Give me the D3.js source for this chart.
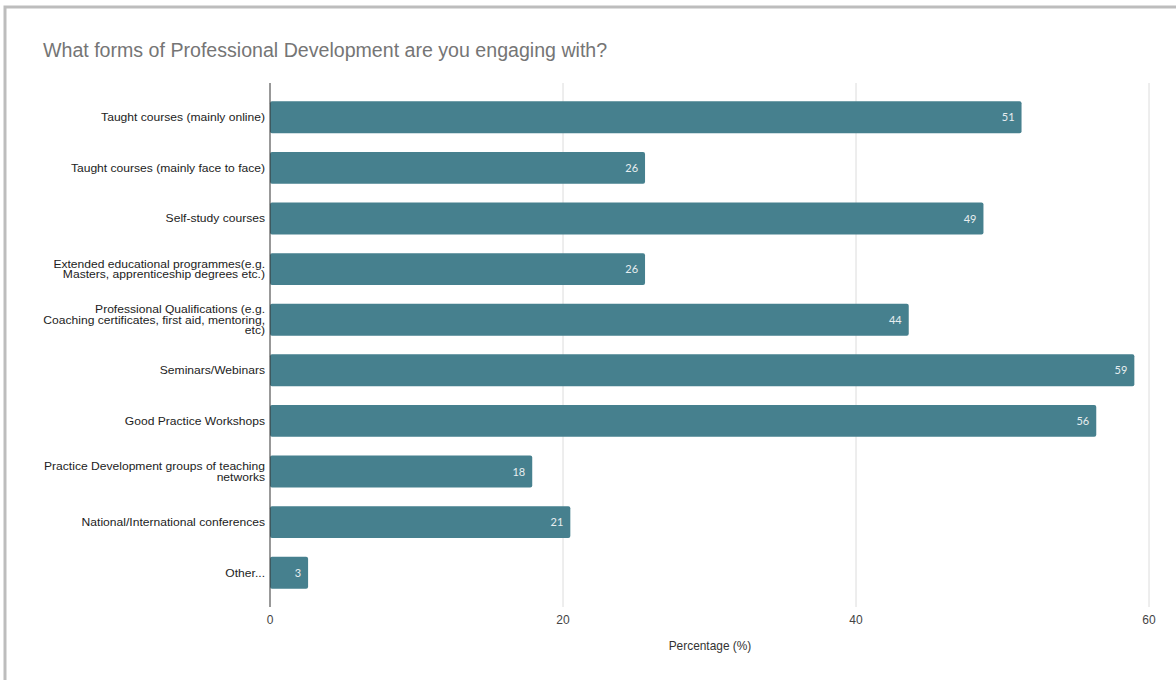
<!DOCTYPE html>
<html><head><meta charset="utf-8">
<script src="https://cdn.jsdelivr.net/npm/d3@7"></script>
<style>body{margin:0;background:#fff;}svg{display:block;}</style>
</head><body>
<svg id="c" width="1176" height="680"></svg>
<script>
const categories = [
  ["Taught courses (mainly online)"],
  ["Taught courses (mainly face to face)"],
  ["Self-study courses"],
  ["Extended educational programmes(e.g.", "Masters, apprenticeship degrees etc.)"],
  ["Professional Qualifications (e.g.", "Coaching certificates, first aid, mentoring,", "etc)"],
  ["Seminars/Webinars"],
  ["Good Practice Workshops"],
  ["Practice Development groups of teaching", "networks"],
  ["National/International conferences"],
  ["Other..."]
];
const values = [51.3, 25.6, 48.7, 25.6, 43.6, 59.0, 56.4, 17.9, 20.5, 2.6];
const valueLabels = ["51", "26", "49", "26", "44", "59", "56", "18", "21", "3"];
const xTicks = [0, 20, 40, 60];
const title = "What forms of Professional Development are you engaging with?";
const xTitle = "Percentage (%)";

const svg = d3.select("#c");
svg.append("rect").attr("x", 5).attr("y", 7).attr("width", 1200).attr("height", 700)
  .attr("fill", "none").attr("stroke", "#bdbdbd").attr("stroke-width", 3);

svg.append("text").attr("x", 43).attr("y", 57).text(title)
  .attr("font-family", "Liberation Sans, Arial, sans-serif").attr("font-size", 19.6).attr("fill", "#757575");

const x = d3.scaleLinear().domain([0, 60]).range([270, 1149]);
const y = d3.scaleBand().domain(d3.range(categories.length)).range([92, 598]).paddingInner(0.37).paddingOuter(0.185);

// grid
svg.append("g").selectAll("line").data(xTicks.filter(d => d > 0)).join("line")
  .attr("x1", d => x(d)).attr("x2", d => x(d)).attr("y1", 83).attr("y2", 607)
  .attr("stroke", "#dcdcdc").attr("stroke-width", 1);

// bars
svg.append("g").selectAll("rect").data(values).join("rect")
  .attr("x", x(0)).attr("y", (d, i) => y(i)).attr("width", d => x(d) - x(0)).attr("height", y.bandwidth())
  .attr("rx", 2).attr("fill", "#46808e");

// value labels
svg.append("g").selectAll("text").data(values).join("text")
  .attr("x", d => x(d) - 7).attr("y", (d, i) => y(i) + y.bandwidth() / 2 + 4)
  .attr("text-anchor", "end").attr("font-family", "Lato, sans-serif").attr("font-size", 11)
  .attr("fill", "#e8eef0").text((d, i) => valueLabels[i]);

// y axis line
svg.append("line").attr("x1", x(0)).attr("x2", x(0)).attr("y1", 83).attr("y2", 607)
  .attr("stroke", "#333").attr("stroke-width", 1);

// category labels (slightly widened glyphs like the reference)
const lab = svg.append("g").attr("transform", "translate(265,0) scale(1.1,1)")
  .attr("font-family", "Liberation Sans, Arial, sans-serif").attr("font-size", 11).attr("fill", "#222");
categories.forEach((lines, i) => {
  const cy = y(i) + y.bandwidth() / 2;
  const lh = 10.5;
  const t = lab.append("text").attr("text-anchor", "end");
  lines.forEach((ln, j) => {
    t.append("tspan").attr("x", 0).attr("y", cy + 4 + (j - (lines.length - 1) / 2) * lh).text(ln);
  });
});

// x tick labels
svg.append("g").selectAll("text").data(xTicks).join("text")
  .attr("x", d => x(d)).attr("y", 624).attr("text-anchor", "middle")
  .attr("font-family", "Liberation Sans, Arial, sans-serif").attr("font-size", 12).attr("fill", "#444")
  .text(d => d);

svg.append("text").attr("x", 710).attr("y", 650).attr("text-anchor", "middle")
  .attr("font-family", "Liberation Sans, Arial, sans-serif").attr("font-size", 11.9).attr("fill", "#333").text(xTitle);
</script>
</body></html>
